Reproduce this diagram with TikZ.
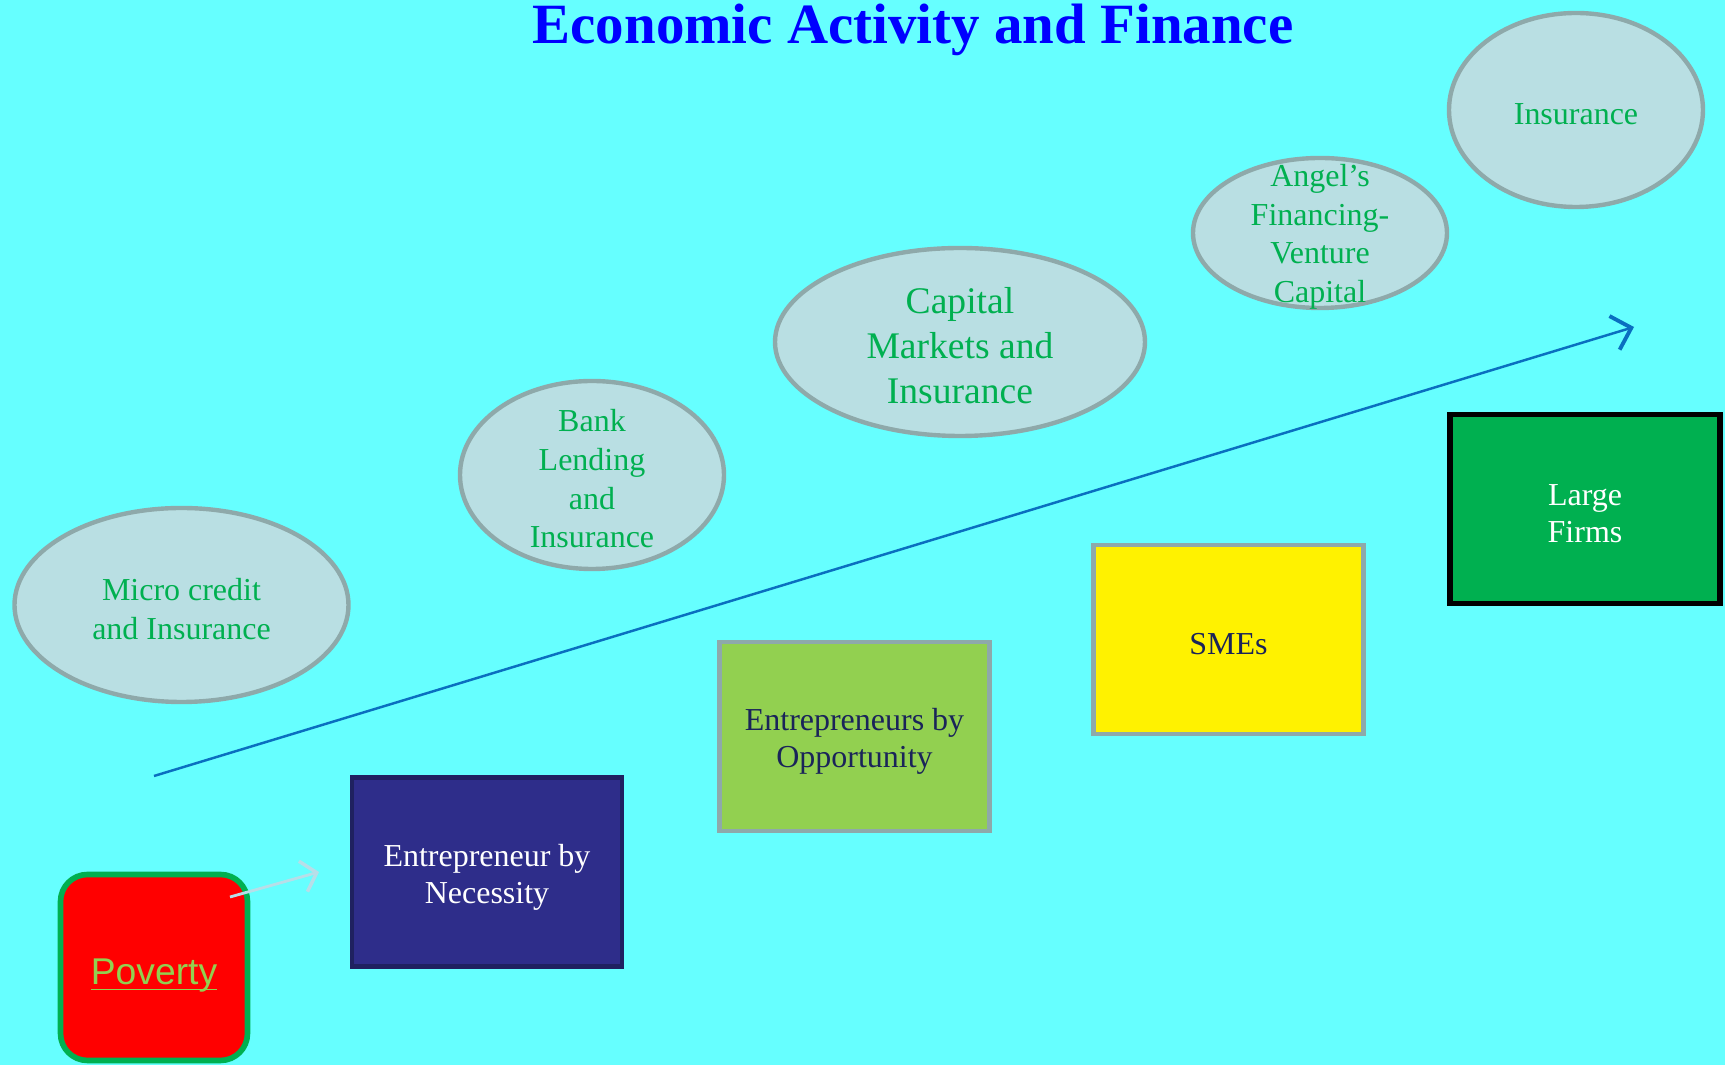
\documentclass[tikz,border=0pt]{standalone}
\usepackage{fontspec}
\setmainfont{Liberation Serif}
\newfontfamily\povfont{Liberation Sans}
\usetikzlibrary{shapes.geometric,arrows.meta}
\definecolor{sky}{HTML}{66FFFF}
\definecolor{titleblue}{HTML}{0000FF}
\definecolor{ovalfill}{HTML}{B9DFE3}
\definecolor{ovalgray}{HTML}{8EA9AA}
\definecolor{ovalgreen}{HTML}{00B050}
\definecolor{povred}{HTML}{FF0000}
\definecolor{povgreen}{HTML}{92D050}
\definecolor{necnavy}{HTML}{2E2D8A}
\definecolor{necborder}{HTML}{1F2160}
\definecolor{darknavy}{HTML}{1A2459}
\definecolor{firmgreen}{HTML}{00B050}
\definecolor{riseblue}{HTML}{0A6FC0}
\definecolor{paleblue}{HTML}{B7DEE8}

\begin{document}
\begin{tikzpicture}[thick,
		oval/.style={ellipse,draw=ovalgray,fill=ovalfill,line width=1.25pt,inner sep=0pt},
		ovaltext/.style={text=ovalgreen,align=center,yshift=-0.038cm,font=\fontsize{9.1}{11}\selectfont},
		stepbox/.style={rectangle,minimum width=2.70cm,minimum height=1.89cm,line width=1.4pt},
		boxtext/.style={align=center,yshift=-0.05cm,font=\fontsize{9.1}{10.6}\selectfont}
		]
	\useasboundingbox (0,0) rectangle (17.25,10.65);
	\fill[sky] (0,0) rectangle (17.25,10.65);

	\node [anchor=base,text=titleblue,font=\fontsize{16.2}{19}\selectfont\bfseries] (title) at (9.13,10.21) {Economic Activity and Finance};

	\node [oval,minimum width=3.34cm,minimum height=1.94cm,label={[ovaltext]center:Micro credit\\and Insurance}] (micro) at (1.815,4.60) {};
	\node [oval,minimum width=2.64cm,minimum height=1.88cm,label={[ovaltext]center:Bank\\Lending\\and\\Insurance}] (bank) at (5.92,5.90) {};
	\node [oval,minimum width=3.70cm,minimum height=1.88cm,label={[ovaltext,font=\fontsize{10.7}{12.8}\selectfont]center:Capital\\Markets and\\Insurance}] (capital) at (9.60,7.23) {};
	\node [oval,minimum width=2.54cm,minimum height=1.50cm,label={[ovaltext]center:Angel’s\\Financing-\\Venture\\Capital}] (angel) at (13.20,8.32) {};
	\node [oval,minimum width=2.54cm,minimum height=1.94cm,label={[ovaltext]center:Insurance}] (insurance) at (15.76,9.55) {};

	\node [rectangle,rounded corners=0.27cm,draw=firmgreen,fill=povred,line width=1.6pt,minimum width=1.87cm,minimum height=1.86cm,label={[text=povgreen,yshift=-0.075cm,font=\povfont\fontsize{10.6}{12}\selectfont]center:\underline{\raisebox{0pt}[\height][0pt]{Poverty}}}] (poverty) at (1.54,0.975) {};
	\node [stepbox,draw=necborder,fill=necnavy,label={[boxtext,text=white]center:Entrepreneur by\\Necessity}] (necessity) at (4.87,1.93) {};
	\node [stepbox,draw=ovalgray,fill=povgreen,label={[boxtext,text=darknavy]center:Entrepreneurs by\\Opportunity}] (opportunity) at (8.545,3.285) {};
	\node [stepbox,draw=ovalgray,fill=yellow,label={[boxtext,text=darknavy]center:SMEs}] (smes) at (12.285,4.255) {};
	\node [stepbox,draw=black,fill=firmgreen,line width=1.6pt,label={[boxtext,text=white]center:Large\\Firms}] (large) at (15.85,5.56) {};

	\coordinate (rise-start) at (1.54,2.89);
	\coordinate (rise-end) at (16.34,7.38);
	\draw [riseblue,line width=0.7pt,-{Straight Barb[length=5pt,width=10pt,line width=1.1pt]}] (rise-start) -- (rise-end);

	\coordinate (nudge-start) at (2.30,1.68);
	\coordinate (nudge-end) at (3.19,1.93);
	\draw [paleblue,line width=0.8pt,-{Straight Barb[length=4pt,width=9pt,line width=1pt]}] (nudge-start) -- (nudge-end);
\end{tikzpicture}
\end{document}
